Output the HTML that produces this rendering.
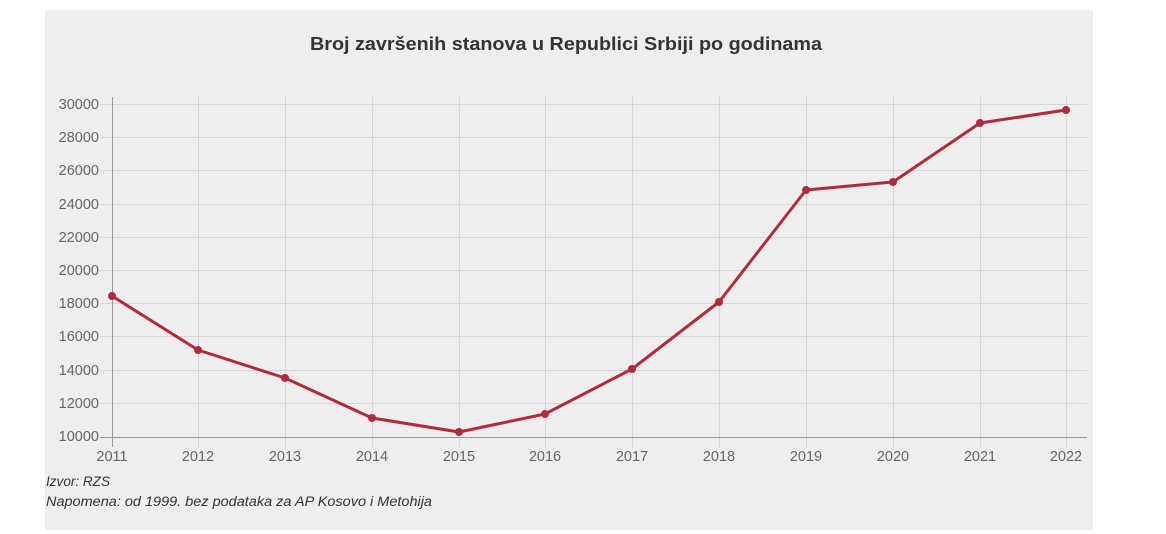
<!DOCTYPE html>
<html><head><meta charset="utf-8"><style>
html,body{margin:0;padding:0;background:#fff;width:1166px;height:534px;overflow:hidden}
</style></head><body>
<svg width="1166" height="534" xmlns="http://www.w3.org/2000/svg" style="position:absolute;left:0;top:0">
<rect x="45" y="10" width="1048" height="520" fill="#eeeeee"/>
<text x="310" y="50" textLength="512" lengthAdjust="spacingAndGlyphs" font-family="Liberation Sans, sans-serif" font-weight="bold" font-size="18" fill="#333">Broj završenih stanova u Republici Srbiji po godinama</text>
<g stroke="#d6d6d6" stroke-width="1">
<line x1="100" y1="104.5" x2="1087" y2="104.5"/>
<line x1="100" y1="137.5" x2="1087" y2="137.5"/>
<line x1="100" y1="170.5" x2="1087" y2="170.5"/>
<line x1="100" y1="204.5" x2="1087" y2="204.5"/>
<line x1="100" y1="237.5" x2="1087" y2="237.5"/>
<line x1="100" y1="270.5" x2="1087" y2="270.5"/>
<line x1="100" y1="303.5" x2="1087" y2="303.5"/>
<line x1="100" y1="336.5" x2="1087" y2="336.5"/>
<line x1="100" y1="370.5" x2="1087" y2="370.5"/>
<line x1="100" y1="403.5" x2="1087" y2="403.5"/>
<line x1="198.5" y1="97" x2="198.5" y2="447"/>
<line x1="285.5" y1="97" x2="285.5" y2="447"/>
<line x1="372.5" y1="97" x2="372.5" y2="447"/>
<line x1="459.5" y1="97" x2="459.5" y2="447"/>
<line x1="545.5" y1="97" x2="545.5" y2="447"/>
<line x1="632.5" y1="97" x2="632.5" y2="447"/>
<line x1="719.5" y1="97" x2="719.5" y2="447"/>
<line x1="806.5" y1="97" x2="806.5" y2="447"/>
<line x1="893.5" y1="97" x2="893.5" y2="447"/>
<line x1="980.5" y1="97" x2="980.5" y2="447"/>
<line x1="1066.5" y1="97" x2="1066.5" y2="447"/>
</g>
<line x1="100" y1="437.5" x2="1087" y2="437.5" stroke="#999"/>
<line x1="112.5" y1="97" x2="112.5" y2="447" stroke="#999"/>
<g font-family="Liberation Sans, sans-serif" font-size="14.5" fill="#666" text-anchor="end">
<text x="99" y="109">30000</text><text x="99" y="142">28000</text><text x="99" y="175">26000</text>
<text x="99" y="209">24000</text><text x="99" y="242">22000</text><text x="99" y="275">20000</text>
<text x="99" y="308">18000</text><text x="99" y="341">16000</text><text x="99" y="375">14000</text>
<text x="99" y="408">12000</text><text x="99" y="441">10000</text>
</g>
<g font-family="Liberation Sans, sans-serif" font-size="14.5" fill="#666" text-anchor="middle">
<text x="112" y="461">2011</text><text x="198" y="461">2012</text><text x="285" y="461">2013</text>
<text x="372" y="461">2014</text><text x="459" y="461">2015</text><text x="545" y="461">2016</text>
<text x="632" y="461">2017</text><text x="719" y="461">2018</text><text x="806" y="461">2019</text>
<text x="893" y="461">2020</text><text x="980" y="461">2021</text><text x="1066" y="461">2022</text>
</g>
<polyline fill="none" stroke="#b02c3c" stroke-width="3" stroke-linejoin="round" points="112,296 198,350 285,378 372,418 459,432 545,414 632,369 719,302 806,190 893,182 980,123 1066,110"/>
<g fill="#b02c3c">
<circle cx="112" cy="296" r="4"/><circle cx="198" cy="350" r="4"/><circle cx="285" cy="378" r="4"/>
<circle cx="372" cy="418" r="4"/><circle cx="459" cy="432" r="4"/><circle cx="545" cy="414" r="4"/>
<circle cx="632" cy="369" r="4"/><circle cx="719" cy="302" r="4"/><circle cx="806" cy="190" r="4"/>
<circle cx="893" cy="182" r="4"/><circle cx="980" cy="123" r="4"/><circle cx="1066" cy="110" r="4"/>
</g>
<g font-family="Liberation Sans, sans-serif" font-size="13.5" font-style="italic" fill="#333">
<text x="46" y="486" textLength="64" lengthAdjust="spacingAndGlyphs">Izvor: RZS</text>
<text x="46" y="506" textLength="386" lengthAdjust="spacingAndGlyphs">Napomena: od 1999. bez podataka za AP Kosovo i Metohija</text>
</g>
</svg>
</body></html>
